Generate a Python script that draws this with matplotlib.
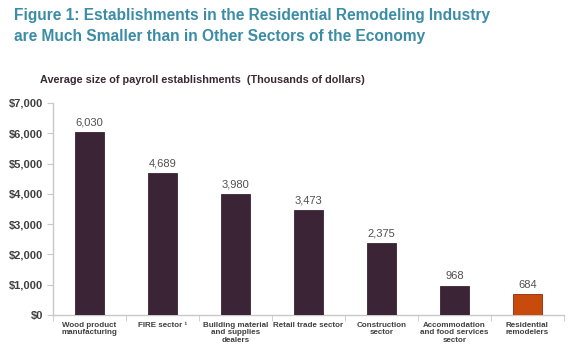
"""Average size of payroll establishments by sector."""

import matplotlib.pyplot as plt
import numpy as np

SECTORS = [
    "Wood product\nmanufacturing",
    "FIRE sector ¹",
    "Building material\nand supplies\ndealers",
    "Retail trade sector",
    "Construction\nsector",
    "Accommodation\nand food services\nsector",
    "Residential\nremodelers",
]
AVG_SIZE = [6030, 4689, 3980, 3473, 2375, 968, 684]
Y_TICKS = [0, 1000, 2000, 3000, 4000, 5000, 6000, 7000]

BAR_COLOR = "#3a2436"
HIGHLIGHT_COLOR = "#c84b0c"
TITLE_COLOR = "#3b8ca6"
TEXT_COLOR = "#404040"
AXIS_COLOR = "#c8c8c8"

plt.rcParams["font.family"] = ["Liberation Sans", "DejaVu Sans"]

fig = plt.figure(figsize=(5.76, 3.51), dpi=100)
ax = fig.add_axes([0.092, 0.1026, 0.887, 0.604])

x = np.arange(len(SECTORS))
colors = [BAR_COLOR] * (len(SECTORS) - 1) + [HIGHLIGHT_COLOR]
edges = [BAR_COLOR] * (len(SECTORS) - 1) + ["#8a2a08"]
ax.bar(x, AVG_SIZE, width=0.4, color=colors, edgecolor=edges, linewidth=0.6, zorder=3)

for xi, val in zip(x, AVG_SIZE):
    ax.text(xi, val + 150, f"{val:,}", ha="center", va="bottom",
            fontsize=8, color="#505050")

ax.set_xlim(-0.5, len(SECTORS) - 0.5)
ax.set_ylim(0, 7000)
ax.set_yticks(Y_TICKS)
ax.set_yticklabels([f"${v:,}" for v in Y_TICKS], fontsize=8, fontweight="bold",
                   color=TEXT_COLOR)

ax.set_xticks(x)
ax.set_xticklabels(SECTORS, fontsize=5.8, fontweight="bold", color=TEXT_COLOR,
                   linespacing=1.1, va="top")
ax.tick_params(axis="x", length=0, pad=5)
ax.set_xticks(np.arange(-0.5, len(SECTORS), 1.0), minor=True)
ax.tick_params(axis="x", which="minor", length=4, color=AXIS_COLOR)
ax.tick_params(axis="y", length=4, color=AXIS_COLOR, pad=3)

for side in ("top", "right"):
    ax.spines[side].set_visible(False)
for side in ("left", "bottom"):
    ax.spines[side].set_color(AXIS_COLOR)
    ax.spines[side].set_linewidth(1.0)

fig.text(0.024, 0.978, "Figure 1: Establishments in the Residential Remodeling Industry\n"
         "are Much Smaller than in Other Sectors of the Economy",
         ha="left", va="top", fontsize=11.2, fontweight="bold", color=TITLE_COLOR,
         linespacing=1.5)
fig.text(0.07, 0.772, "Average size of payroll establishments  (Thousands of dollars)",
         ha="left", va="center", fontsize=7.8, fontweight="bold", color="#3b2a35")

fig.savefig("out.png", dpi=100)
